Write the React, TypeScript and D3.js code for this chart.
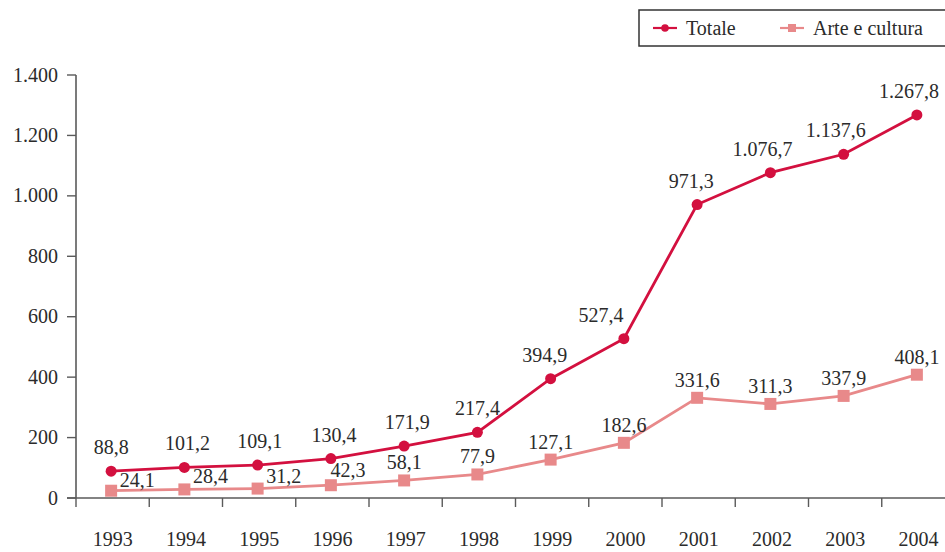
import React from 'react';
import * as d3 from 'd3';

const WIDTH = 945;
const HEIGHT = 552;
const MARGIN = { top: 75, right: -10, bottom: 54, left: 76 };

const years = ['1993', '1994', '1995', '1996', '1997', '1998', '1999', '2000', '2001', '2002', '2003', '2004'];
const totale = [88.8, 101.2, 109.1, 130.4, 171.9, 217.4, 394.9, 527.4, 971.3, 1076.7, 1137.6, 1267.8];
const arteCultura = [24.1, 28.4, 31.2, 42.3, 58.1, 77.9, 127.1, 182.6, 331.6, 311.3, 337.9, 408.1];
const yTicks = [0, 200, 400, 600, 800, 1000, 1200, 1400];

// label nudges so the numbers sit like in the print
const totaleDx = [0, 3, 2, 3, 3, 0, -6, -23, -6, -8, -8, -8];
const arteDx = [26, 26, 26, 17, 0, 0, 0, 0, 0, 0, 0, 0];
const arteDy = [-4, -6, -6, -8, -11, -11, -11, -11, -11, -11, -11, -11];

const RED = '#d3103f';
const PINK = '#e8898a';
const TEXT = '#2b2b2b';
const AXIS = '#5a5a5a';
const FONT = '"Liberation Serif", "Times New Roman", serif';

const it = d3.formatLocale({ decimal: ',', thousands: '.', grouping: [3], currency: ['€', ''] });
const fmtVal = it.format(',.1f');
const fmtTick = it.format(',.0f');

const App = () => {
    const chartLeft = MARGIN.left;
    const chartRight = WIDTH - MARGIN.right;
    const chartTop = MARGIN.top;
    const chartBottom = HEIGHT - MARGIN.bottom;

    const xScale = d3.scaleBand()
        .domain(years)
        .range([chartLeft, chartRight]);

    const yScale = d3.scaleLinear()
        .domain([0, 1400])
        .range([chartBottom, chartTop]);

    const cx = (i) => xScale(years[i]) + xScale.bandwidth() / 2 - 1.5;

    const line = d3.line()
        .x((d, i) => cx(i))
        .y(d => yScale(d));

    return (
        <svg width={WIDTH} height={HEIGHT} style={{ position: 'absolute', left: 0, top: 0 }} fontFamily={FONT}>
            <rect width={WIDTH} height={HEIGHT} fill="#fff" />

            {/* y axis */}
            <line x1={chartLeft} x2={chartLeft} y1={yScale(1400)} y2={chartBottom} stroke={AXIS} strokeWidth={1.6} />
            {yTicks.map(t =>
                <g key={t} transform={`translate(0, ${yScale(t)})`}>
                    <line x1={chartLeft - 9} x2={chartLeft} stroke={AXIS} strokeWidth={1.4} />
                    <text x={chartLeft - 18} dy="0.33em" textAnchor="end" fontSize={20} fill={TEXT}>{fmtTick(t)}</text>
                </g>
            )}

            {/* x axis */}
            <line x1={chartLeft - 9} x2={WIDTH} y1={chartBottom} y2={chartBottom} stroke={AXIS} strokeWidth={1.6} />
            {years.map((y, i) =>
                <g key={y}>
                    <line x1={xScale(y)} x2={xScale(y)} y1={chartBottom} y2={chartBottom + 9} stroke={AXIS} strokeWidth={1.4} />
                    <text x={xScale(y) + xScale.bandwidth() / 2} y={chartBottom + 48} textAnchor="middle" fontSize={20} fill={TEXT}>{y}</text>
                </g>
            )}

            {/* arte e cultura */}
            <path d={line(arteCultura)} fill="none" stroke={PINK} strokeWidth={2.8} />
            {arteCultura.map((v, i) =>
                <rect key={i} x={cx(i) - 6} y={yScale(v) - 6} width={12} height={12} fill={PINK} />
            )}
            {arteCultura.map((v, i) =>
                <text key={i} x={cx(i) + arteDx[i]} y={yScale(v) + arteDy[i]} textAnchor="middle" fontSize={20} fill={TEXT}>{fmtVal(v)}</text>
            )}

            {/* totale */}
            <path d={line(totale)} fill="none" stroke={RED} strokeWidth={2.8} />
            {totale.map((v, i) =>
                <circle key={i} cx={cx(i)} cy={yScale(v)} r={5.5} fill={RED} />
            )}
            {totale.map((v, i) =>
                <text key={i} x={cx(i) + totaleDx[i]} y={yScale(v) - 17} textAnchor="middle" fontSize={20} fill={TEXT}>{fmtVal(v)}</text>
            )}

            {/* legend */}
            <g>
                <rect x={639} y={10} width={320} height={36} fill="#fff" stroke="#333" strokeWidth={1.5} />
                <line x1={653} x2={677} y1={28} y2={28} stroke={RED} strokeWidth={2.2} />
                <circle cx={665} cy={28} r={3.8} fill={RED} />
                <text x={686} y={35} fontSize={20} fill={TEXT}>Totale</text>
                <line x1={780} x2={804} y1={28} y2={28} stroke={PINK} strokeWidth={2.2} />
                <rect x={788} y={24} width={8} height={8} fill={PINK} />
                <text x={813} y={35} fontSize={20} fill={TEXT}>Arte e cultura</text>
            </g>
        </svg>
    );
};

export default App;
